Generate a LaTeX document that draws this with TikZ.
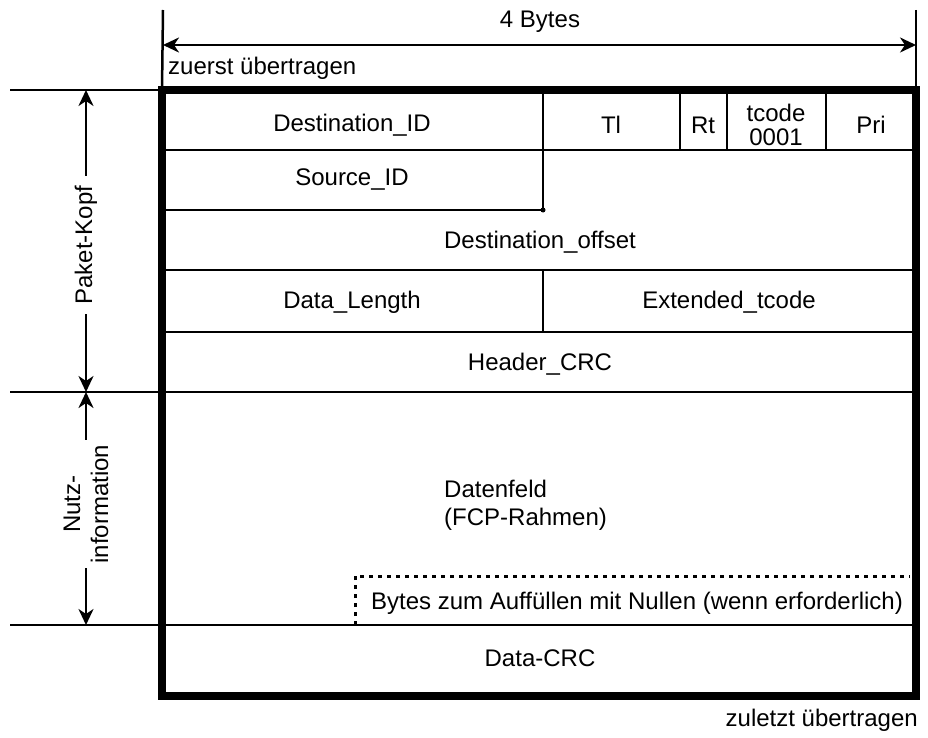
\documentclass[tikz,border=0pt]{standalone}
\usepackage{fontspec}
\setmainfont{Liberation Sans}
\usetikzlibrary{arrows.meta}
\begin{document}
\fontsize{24}{28}\selectfont
\begin{tikzpicture}[x=1pt,y=-1pt,
  thin line/.style={line width=2.5pt},
  frame line/.style={line width=8.5pt},
  dim arrow/.style={line width=2.5pt,arrows={Stealth[length=16pt,width=15pt,inset=5pt]-Stealth[length=16pt,width=15pt,inset=5pt]}},
  lbl/.style={inner sep=0pt,font=\fontsize{24}{28}\selectfont},
  gap/.style={fill=white,inner xsep=0pt,inner ysep=0pt,font=\fontsize{24}{28}\selectfont}]
\useasboundingbox (0,0) rectangle (928,738);

% frame corners
\coordinate (tl) at (162,90);
\coordinate (tr) at (916,90);
\coordinate (bl) at (162,696);
\coordinate (br) at (916,696);

% width dimension at the top
\coordinate (wl) at (163,10);
\coordinate (wr) at (916,10);
\coordinate (al) at (163,45);
\coordinate (ar) at (916,45);
\draw[thin line] (wl) -- (tl);
\draw[thin line] (wr) -- (tr);
\draw[dim arrow] (al) -- (ar);
\node[lbl] (bytes) at (540,22) {4 Bytes};
\node[lbl,anchor=west] (first) at (168,68) {zuerst übertragen};

% row boundaries
\coordinate (r1l) at (162,150); \coordinate (r1r) at (916,150);
\coordinate (r2l) at (162,210); \coordinate (r2m) at (543,210);
\coordinate (r3l) at (162,270); \coordinate (r3r) at (916,270);
\coordinate (r4l) at (162,332); \coordinate (r4r) at (916,332);
\coordinate (r5l) at (10,392);  \coordinate (r5r) at (916,392);
\coordinate (r6l) at (10,625);  \coordinate (r6r) at (916,625);
\coordinate (r0l) at (10,90);

\draw[thin line] (r0l) -- (tl);
\draw[thin line] (r1l) -- (r1r);
\draw[thin line] (r2l) -- (r2m);
\draw[thin line] (r3l) -- (r3r);
\draw[thin line] (r4l) -- (r4r);
\draw[thin line] (r5l) -- (r5r);
\draw[thin line] (r6l) -- (r6r);

% column dividers
\draw[thin line] (543,90) -- (543,150);
\draw[thin line] (680,90) -- (680,150);
\draw[thin line] (727,90) -- (727,150);
\draw[thin line] (826,90) -- (826,150);
\draw[thin line] (543,150) -- (r2m);
\fill (r2m) circle (2.5pt);
\draw[thin line] (543,270) -- (543,332);

% padding bytes (dotted outline)
\coordinate (p1) at (355,625);
\coordinate (p2) at (355,576);
\coordinate (p3) at (910,576);
\draw[line width=3pt,dash pattern=on 4pt off 5pt] (p1) -- (p2) -- (p3);

% outer frame
\draw[frame line] (tl) rectangle (br);

% field labels
\node[lbl] (destid) at (352,125) {Destination\_ID};
\node[lbl] (tlab) at (611,125) {Tl};
\node[lbl] (rt) at (703,125) {Rt};
\node[lbl,align=center,font=\fontsize{24}{24}\selectfont] (tcode) at (776,125) {tcode\\0001};
\node[lbl] (pri) at (871,125) {Pri};
\node[lbl] (srcid) at (352,180) {Source\_ID};
\node[lbl] (offs) at (540,242) {Destination\_offset};
\node[lbl] (dlen) at (352,302) {Data\_Length};
\node[lbl] (etc) at (729,302) {Extended\_tcode};
\node[lbl] (hcrc) at (540,364) {Header\_CRC};
\node[lbl,align=left,anchor=west] (data) at (444,505) {Datenfeld\\(FCP-Rahmen)};
\node[lbl] (pad) at (637,603) {Bytes zum Auffüllen mit Nullen (wenn erforderlich)};
\node[lbl] (dcrc) at (540,658) {Data-CRC};
\node[lbl,anchor=east] (last) at (918,720) {zuletzt übertragen};

% section dimensions on the left
\coordinate (h1) at (86,90);
\coordinate (h2) at (86,392);
\coordinate (h3) at (86,625);
\draw[dim arrow] (h1) -- (h2);
\draw[dim arrow] (h2) -- (h3);
\node[gap,rotate=90,inner xsep=10pt] (kopf) at (86,245) {Paket-Kopf};
\node[gap,rotate=90,align=center,inner xsep=5pt] (nutz) at (86,504) {Nutz-\\information};
\end{tikzpicture}
\end{document}
